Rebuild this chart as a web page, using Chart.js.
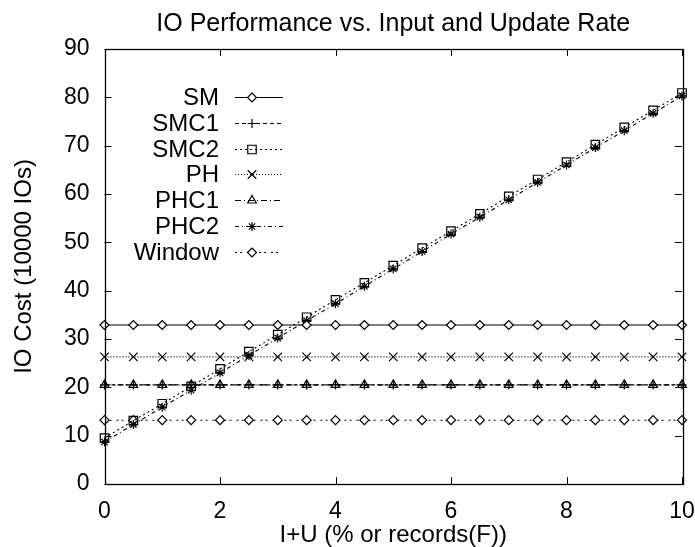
<!DOCTYPE html>
<html>
<head>
<meta charset="utf-8">
<script src="https://cdn.jsdelivr.net/npm/chart.js@4.4.1/dist/chart.umd.min.js"></script>
<style>
  html, body { margin: 0; padding: 0; background: #fff; }
  #wrap { width: 695px; height: 547px; }
</style>
</head>
<body>
<div id="wrap"><canvas id="myChart" width="695" height="547"></canvas></div>
<script>
// x = I+U (% of records)
const xValues = [0, 0.5, 1, 1.5, 2, 2.5, 3, 3.5, 4, 4.5, 5, 5.5, 6, 6.5, 7, 7.5, 8, 8.5, 9, 9.5, 10];

const smValues = [32.9, 32.9, 32.9, 32.9, 32.9, 32.9, 32.9, 32.9, 32.9, 32.9, 32.9, 32.9, 32.9, 32.9, 32.9, 32.9, 32.9, 32.9, 32.9, 32.9, 32.9];
const smc1Values = [20.5, 20.5, 20.5, 20.5, 20.5, 20.5, 20.5, 20.5, 20.5, 20.5, 20.5, 20.5, 20.5, 20.5, 20.5, 20.5, 20.5, 20.5, 20.5, 20.5, 20.5];
const smc2Values = [9.5, 13.1, 16.6, 20.2, 23.8, 27.4, 30.9, 34.5, 38.1, 41.6, 45.2, 48.8, 52.3, 55.9, 59.5, 63.0, 66.6, 70.2, 73.8, 77.3, 80.9];
const phValues = [26.3, 26.3, 26.3, 26.3, 26.3, 26.3, 26.3, 26.3, 26.3, 26.3, 26.3, 26.3, 26.3, 26.3, 26.3, 26.3, 26.3, 26.3, 26.3, 26.3, 26.3];
const phc1Values = [20.5, 20.5, 20.5, 20.5, 20.5, 20.5, 20.5, 20.5, 20.5, 20.5, 20.5, 20.5, 20.5, 20.5, 20.5, 20.5, 20.5, 20.5, 20.5, 20.5, 20.5];
const phc2Values = [8.7, 12.3, 15.9, 19.4, 23.0, 26.6, 30.2, 33.8, 37.3, 40.9, 44.5, 48.1, 51.7, 55.2, 58.8, 62.4, 66.0, 69.6, 73.1, 76.7, 80.3];
const windowValues = [13.2, 13.2, 13.2, 13.2, 13.2, 13.2, 13.2, 13.2, 13.2, 13.2, 13.2, 13.2, 13.2, 13.2, 13.2, 13.2, 13.2, 13.2, 13.2, 13.2, 13.2];

const xTicks = [0, 2, 4, 6, 8, 10];
const yTicks = [0, 10, 20, 30, 40, 50, 60, 70, 80, 90];

const titleText = 'IO Performance vs. Input and Update Rate';
const FONT = '"Liberation Sans", Arial, Helvetica, sans-serif';

function pts(vals) {
    return vals.map((v, i) => ({ x: xValues[i], y: v }));
}

function series(label, vals, dash, style, radius, fill) {
    return {
        label: label,
        data: pts(vals),
        borderColor: '#000',
        borderWidth: 1.1,
        borderDash: dash,
        pointStyle: style,
        pointRadius: radius,
        pointBorderWidth: 1.2,
        pointBorderColor: '#000',
        pointBackgroundColor: fill,
        backgroundColor: fill,
        tension: 0,
        clip: false
    };
}

// gnuplot style frame + inward ticks on all four sides, title over the plot
const framePlugin = {
    id: 'frame',
    afterDatasetsDraw(chart) {
        const { ctx, chartArea: a, scales } = chart;
        ctx.save();
        ctx.strokeStyle = '#000';
        ctx.lineWidth = 1;
        ctx.beginPath();
        xTicks.forEach(t => {
            const px = Math.round(scales.x.getPixelForValue(t)) + 0.5;
            ctx.moveTo(px, a.bottom); ctx.lineTo(px, a.bottom - 7);
            ctx.moveTo(px, a.top); ctx.lineTo(px, a.top + 7);
        });
        yTicks.forEach(t => {
            const py = Math.round(scales.y.getPixelForValue(t)) + 0.5;
            ctx.moveTo(a.left, py); ctx.lineTo(a.left + 7, py);
            ctx.moveTo(a.right, py); ctx.lineTo(a.right - 7, py);
        });
        ctx.stroke();
        ctx.lineWidth = 1.3;
        ctx.strokeRect(Math.round(a.left) + 0.5, Math.round(a.top) + 0.5,
            Math.round(a.right - a.left), Math.round(a.bottom - a.top));

        ctx.fillStyle = '#000';
        ctx.font = '25px ' + FONT;
        ctx.textAlign = 'center';
        ctx.textBaseline = 'middle';
        ctx.fillText(titleText, (a.left + a.right) / 2, 24);
        ctx.restore();
    }
};

// legend inside the plot: label right aligned, then a line sample with its marker
const keyPlugin = {
    id: 'key',
    afterDatasetsDraw(chart) {
        const { ctx } = chart;
        ctx.save();
        ctx.font = '24px ' + FONT;
        ctx.textAlign = 'right';
        ctx.textBaseline = 'middle';
        chart.data.datasets.forEach((ds, i) => {
            const y = Math.round(97 + i * 25.8) + 0.5;
            ctx.fillStyle = '#000';
            ctx.fillText(ds.label, 219, y + 1);
            ctx.strokeStyle = '#000';
            ctx.lineWidth = 1.1;
            ctx.setLineDash(ds.borderDash);
            ctx.beginPath();
            ctx.moveTo(235, y);
            ctx.lineTo(283, y);
            ctx.stroke();
            ctx.setLineDash([]);
            ctx.fillStyle = ds.pointBackgroundColor;
            ctx.lineWidth = 1.2;
            Chart.helpers.drawPoint(ctx, {
                pointStyle: ds.pointStyle,
                radius: ds.pointRadius,
                borderWidth: 1.2,
                rotation: 0
            }, 252, y);
        });
        ctx.restore();
    }
};

const ctx = document.getElementById('myChart');
const hollow = 'rgba(255,255,255,0)';

const chart = new Chart(ctx, {
    type: 'line',
    data: {
        datasets: [
            series('SM', smValues, [], 'rectRot', 4.5, '#fff'),
            series('SMC1', smc1Values, [4, 3], 'cross', 4.5, hollow),
            series('SMC2', smc2Values, [2, 3], 'rect', 6, hollow),
            series('PH', phValues, [1, 2], 'crossRot', 6, hollow),
            series('PHC1', phc1Values, [6, 3, 1, 3], 'triangle', 5, hollow),
            series('PHC2', phc2Values, [4, 3, 1, 3], 'star', 4.5, hollow),
            series('Window', windowValues, [2, 3, 2, 5], 'rectRot', 4.5, '#fff')
        ]
    },
    options: {
        responsive: false,
        animation: false,
        layout: { padding: { left: 0, right: 13, top: 49, bottom: 0 } },
        scales: {
            x: {
                type: 'linear',
                min: 0,
                max: 10,
                afterFit: (s) => { s.height = 63; s.paddingRight = 13; s.paddingLeft = 0; },
                afterBuildTicks: (s) => { s.ticks = xTicks.map(v => ({ value: v })); },
                grid: { display: false, drawTicks: false },
                border: { display: false },
                ticks: {
                    color: '#000',
                    padding: 16,
                    font: { family: FONT, size: 23, lineHeight: 1 }
                },
                title: {
                    display: true,
                    text: 'I+U (% or records(F))',
                    color: '#000',
                    font: { family: FONT, size: 24, lineHeight: 1 },
                    padding: { top: 0, bottom: 0 }
                }
            },
            y: {
                type: 'linear',
                min: 0,
                max: 90,
                afterFit: (s) => { s.width = 104.5; s.paddingTop = 0; s.paddingBottom = 0; },
                afterBuildTicks: (s) => { s.ticks = yTicks.map(v => ({ value: v })); },
                grid: { display: false, drawTicks: false },
                border: { display: false },
                ticks: {
                    color: '#000',
                    padding: 15,
                    font: { family: FONT, size: 23, lineHeight: 1 }
                },
                title: {
                    display: true,
                    text: 'IO Cost (10000 IOs)',
                    color: '#000',
                    font: { family: FONT, size: 24, lineHeight: 1 },
                    padding: { top: 12, bottom: 0 }
                }
            }
        },
        plugins: {
            legend: { display: false },
            tooltip: { enabled: false },
            title: { display: false }
        }
    },
    plugins: [framePlugin, keyPlugin]
});
</script>
</body>
</html>
